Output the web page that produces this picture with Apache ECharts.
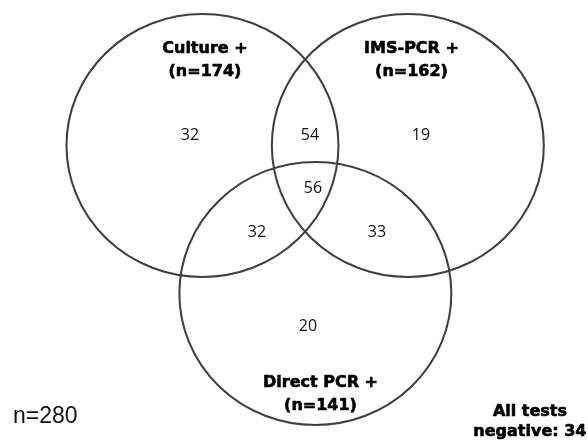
<!DOCTYPE html>
<html>
<head>
<meta charset="utf-8">
<script src="https://cdn.jsdelivr.net/npm/echarts@6/dist/echarts.min.js"></script>
<style>
  html, body { margin: 0; padding: 0; background: #fff; }
  #venn { width: 588px; height: 440px; }
</style>
</head>
<body>
<div id="venn"></div>
<script>
// sets of the venn diagram (centres in radius units)
const setNames = ['Culture +', 'IMS-PCR +', 'Direct PCR +'];
const setTotals = [174, 162, 141];
const setCenters = [[0, 0], [1.51, 0], [0.83, -1.125]];
const setRadius = 1;
const setLabelPos = [[0.018, 0.646], [1.537, 0.646], [0.868, -1.894]];

// counts per region
const regionCounts = [32, 54, 19, 56, 32, 33, 20];
const regionPos = [
  [-0.092, 0.08], [0.79, 0.08], [1.607, 0.08],
  [0.8125, -0.33],
  [0.40, -0.658], [1.283, -0.658],
  [0.776, -1.373]
];

const totalN = 280;
const allNegative = 34;
const totalPos = [-1.393, -2.065];
const negativePos = [2.408, -2.103];

document.addEventListener('DOMContentLoaded', () => {
  const chart = echarts.init(document.getElementById('venn'));

  const circleData = setCenters.map(c => [c[0], c[1], setRadius]);

  // heavy bold text, a thin border of the same colour thickens the glyphs
  const boldLabel = {
    show: true,
    position: 'inside',
    formatter: '{b}',
    fontFamily: 'DejaVu Sans',
    fontWeight: 'bold',
    fontSize: 16,
    align: 'center',
    color: '#000',
    textBorderColor: '#000',
    textBorderWidth: 0.6
  };

  const option = {
    animation: false,
    grid: { left: 0, right: 0, top: 0, bottom: 0 },
    xAxis: { type: 'value', min: -1.489, max: 2.835, show: false },
    yAxis: { type: 'value', min: -2.2395, max: 1.1065, show: false },
    series: [
      {
        type: 'custom',
        clip: false,
        data: circleData,
        renderItem: (params, api) => {
          const c = api.coord([api.value(0), api.value(1)]);
          const s = api.size([api.value(2), api.value(2)]);
          return {
            type: 'circle',
            x: c[0],
            y: c[1],
            scaleX: s[0] / s[1],
            shape: { cx: 0, cy: 0, r: s[1] },
            style: { fill: 'none', stroke: '#404040', lineWidth: 2, strokeNoScale: true }
          };
        }
      },
      {
        type: 'scatter',
        symbolSize: 0,
        itemStyle: { opacity: 1 },
        data: regionPos.map((p, i) => ({ value: p, name: String(regionCounts[i]) })),
        label: {
          show: true,
          position: 'inside',
          formatter: '{b}',
          fontFamily: 'Open Sans',
          fontSize: 16,
          color: '#111'
        }
      },
      {
        type: 'scatter',
        symbolSize: 0,
        itemStyle: { opacity: 1 },
        data: setLabelPos.map((p, i) => ({ value: p, name: setNames[i] + '\n(n=' + setTotals[i] + ')' })),
        label: Object.assign({}, boldLabel, { lineHeight: 23 })
      },
      {
        type: 'scatter',
        symbolSize: 0,
        itemStyle: { opacity: 1 },
        data: [{ value: negativePos, name: 'All tests\nnegative: ' + allNegative }],
        label: Object.assign({}, boldLabel, { lineHeight: 20 })
      },
      {
        type: 'scatter',
        symbolSize: 0,
        itemStyle: { opacity: 1 },
        data: [{ value: totalPos, name: 'n=' + totalN }],
        label: {
          show: true,
          position: 'right',
          distance: 0,
          formatter: '{b}',
          fontFamily: 'Liberation Sans',
          fontSize: 23,
          color: '#111'
        }
      }
    ]
  };

  chart.setOption(option);
});
</script>
</body>
</html>
